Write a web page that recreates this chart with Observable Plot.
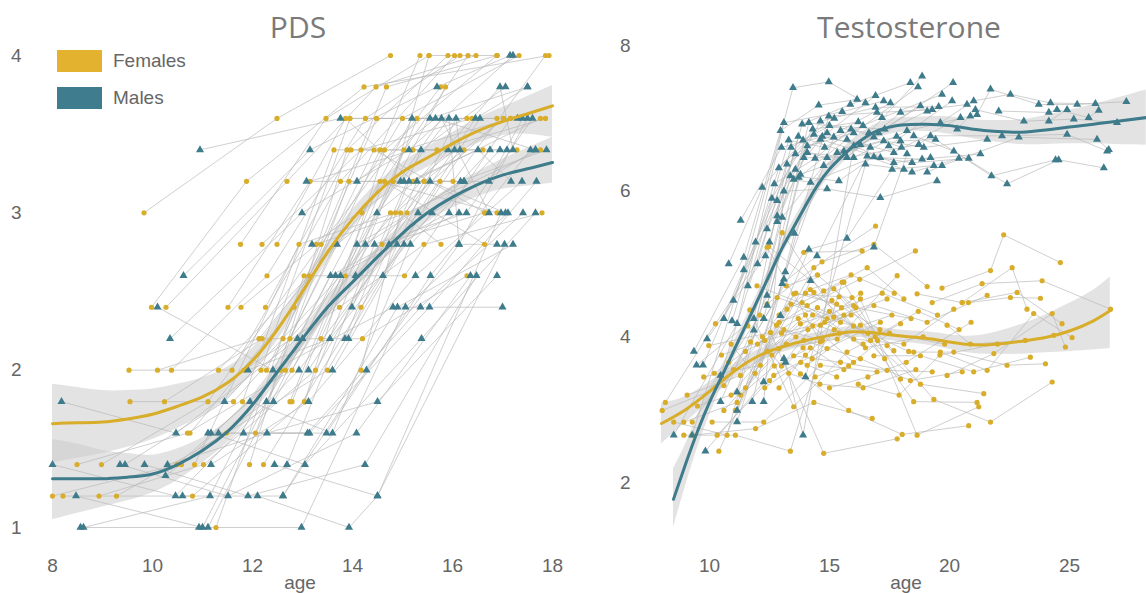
<!DOCTYPE html>
<html><head><meta charset="utf-8">
<script src="https://cdn.jsdelivr.net/npm/d3@7"></script>
<script src="https://cdn.jsdelivr.net/npm/@observablehq/plot@0.6"></script>
<style>
body{margin:0;background:#fff;}
#wrap{position:relative;width:1146px;height:593px;overflow:hidden;font-family:"Liberation Sans",Arial,sans-serif;}
#left,#right{position:absolute;top:0;}
#left{left:0px;} #right{left:573px;}
.title{position:absolute;top:7px;font-family:"Open Sans",sans-serif;font-size:30px;color:#7a7a7a;transform:translateX(-50%);white-space:nowrap;line-height:40px;}
.axlab{position:absolute;top:572px;font-size:19px;color:#666;transform:translateX(-50%);line-height:22px;}
.sw{position:absolute;left:57px;width:45px;height:22px;}
.lt{position:absolute;left:113px;font-size:19px;color:#666;line-height:22px;}
</style></head>
<body><div id="wrap">
<div id="left"></div><div id="right"></div>
<div class="title" style="left:298px">PDS</div>
<div class="title" style="left:909px">Testosterone</div>
<div class="sw" style="top:50px;background:#e3b22e"></div><div class="lt" style="top:50px">Females</div>
<div class="sw" style="top:87px;background:#3f7d8e"></div><div class="lt" style="top:87px">Males</div>
<div class="axlab" style="left:300px">age</div>
<div class="axlab" style="left:906px">age</div>
</div>
<script>
const GOLD = "#d8ad2a", TEAL = "#3e7b8b";

// PDS trajectories: [age, value] per visit
const pdsFemales = [
[[8.0,1.2],[10.49,1.4],[12.66,2.0],[14.76,3.0]],
[[8.21,1.2],[10.8,1.2],[13.04,1.8],[15.29,3.6]],
[[8.49,1.4],[10.7,1.6],[12.79,2.0],[14.81,3.2]],
[[8.93,1.2],[11.02,1.4],[13.26,2.0],[15.43,3.2]],
[[8.98,1.4],[11.11,1.8],[13.37,2.8],[15.76,3.8]],
[[9.28,1.2],[11.48,1.6],[13.5,2.0],[15.75,3.2]],
[[9.53,2.0],[11.59,2.0],[13.76,3.2],[16.04,4.0]],
[[9.55,1.8],[11.62,1.8],[13.86,2.6],[15.86,3.8]],
[[9.83,3.0],[12.49,3.6],[14.76,4.0]],
[[9.98,2.4],[11.88,3.2],[14.23,3.8],[17.93,4.0]],
[[10.1,2.0],[12.13,2.2],[14.19,3.0],[16.31,4.0]],
[[10.24,1.8],[12.19,2.2],[14.2,2.2],[16.29,2.6]],
[[10.27,2.4],[12.69,3.2],[14.47,3.8],[16.47,4.0]],
[[10.38,2.0],[12.29,2.6],[14.26,3.6],[16.15,4.0]],
[[10.58,1.4],[12.56,2.0],[14.59,2.8],[16.64,3.0]],
[[10.75,1.6],[12.83,2.4],[14.68,3.8],[16.89,4.0]],
[[10.84,1.4],[12.93,2.8],[14.86,3.0],[17.02,3.6]],
[[11.27,1.0],[13.03,2.6],[15.04,2.6],[17.16,3.6]],
[[11.32,2.0],[13.13,2.6],[15.0,3.6],[17.33,4.0]],
[[11.51,2.4],[13.15,3.2],[15.21,3.4],[17.29,3.4]],
[[11.76,2.8],[13.47,3.6],[15.53,4.0]],
[[11.77,2.4],[13.28,2.8],[15.09,3.0],[17.76,3.4]],
[[11.8,1.8],[13.63,3.4],[15.69,3.4],[17.86,3.6]],
[[11.83,2.0],[13.74,2.4],[15.43,2.8],[17.79,3.0]],
[[11.94,1.4],[13.89,3.4],[15.91,4.0]],
[[12.06,1.6],[13.93,3.2],[16.01,3.2],[17.86,4.0]],
[[12.17,2.0],[13.95,3.6],[16.29,3.6]],
[[12.19,2.8],[14.17,3.4],[16.39,3.6]],
[[12.22,1.4],[14.17,2.4],[16.23,3.4]],
[[12.26,2.4],[13.97,3.4],[16.61,3.4]],
[[12.28,2.0],[14.43,3.4],[16.66,3.0]],
[[12.61,2.2],[14.48,3.6],[16.89,3.6]],
[[12.75,1.8],[14.55,3.2],[16.89,3.0]],
[[12.75,2.2],[14.55,3.4],[15.35,4.0]],
[[12.79,1.8],[14.64,3.2],[16.64,2.8]],
[[13.04,1.8],[14.64,3.4],[16.89,4.0]],
[[13.37,2.2],[15.03,3.4],[17.16,3.6]],
[[12.49,2.8],[13.86,3.6],[15.21,3.2],[17.76,3.6]],
[[14.17,2.0],[14.96,3.0],[15.77,2.8]],
[[15.43,3.2],[17.02,3.6]],
[[14.81,3.2],[15.53,4.0],[16.89,4.0]]
];
const pdsMales = [
[[8.0,1.4],[10.46,1.2],[12.93,2.0],[15.31,3.0]],
[[8.18,1.8],[10.47,1.6],[12.9,2.2],[15.19,3.6]],
[[8.47,1.2],[11.0,1.0],[13.56,2.6],[15.93,3.0]],
[[8.56,1.0],[11.11,1.0],[13.66,2.6],[16.13,3.0]],
[[8.62,1.0],[11.15,1.2],[13.69,2.8],[16.04,3.4]],
[[9.35,1.4],[11.51,1.2],[14.08,1.6],[16.36,2.6]],
[[9.45,1.4],[11.44,1.8],[13.76,2.6],[15.91,3.4]],
[[9.84,1.4],[11.91,1.2],[14.25,1.4],[16.48,2.6]],
[[10.1,2.4],[12.41,2.0],[14.81,2.4],[17.0,2.4]],
[[10.26,1.33],[12.28,1.8],[14.09,2.8],[16.23,3.2]],
[[10.3,1.4],[12.29,1.6],[14.5,1.8],[16.89,2.6]],
[[10.35,2.2],[12.99,3.0],[15.13,3.4],[17.21,4.0]],
[[10.6,1.2],[12.61,1.2],[14.9,2.4],[17.21,2.8]],
[[10.62,2.6],[13.15,3.4],[15.69,3.8],[17.15,4.0]],
[[10.93,1.0],[12.98,1.0],[15.06,2.4],[17.11,3.0]],
[[10.95,3.4],[13.76,3.6],[15.55,3.6],[17.5,3.8]],
[[11.11,1.6],[13.1,1.6],[15.36,2.4],[17.41,3.0]],
[[11.17,1.6],[13.05,1.4],[15.38,2.2],[17.66,3.0]],
[[11.17,1.4],[13.12,1.8],[15.26,2.6],[17.39,3.2]],
[[11.32,1.6],[13.14,1.6],[15.54,2.4],[17.68,3.2]],
[[11.82,1.6],[13.48,1.6],[15.56,2.6],[17.56,3.4]],
[[11.91,2.0],[13.55,2.2],[15.59,3.0],[17.66,3.4]],
[[11.95,1.8],[13.6,1.6],[15.16,2.8],[16.95,3.4]],
[[12.1,1.2],[13.93,1.0],[14.5,1.2],[16.97,3.0]],
[[12.42,1.8],[14.26,2.8],[16.16,3.2],[17.88,3.4]],
[[12.69,1.4],[14.44,2.8],[16.28,3.0],[17.6,3.6]],
[[12.61,1.2],[14.28,2.0],[16.13,2.8],[17.5,3.6]],
[[13.12,2.0],[14.73,2.8],[16.46,3.6],[17.5,3.8]],
[[13.0,2.2],[14.89,2.8],[16.55,3.6],[17.3,3.6]],
[[13.19,2.8],[15.03,3.2],[16.73,3.2],[17.4,3.6]],
[[13.6,2.0],[15.03,2.8],[16.75,3.4],[17.09,3.4]],
[[13.85,2.2],[15.13,3.2],[16.51,3.4],[17.17,3.2]],
[[13.92,2.2],[15.29,3.2],[16.95,3.8],[17.21,3.4]],
[[13.99,2.4],[15.37,3.4],[17.06,3.8]],
[[14.06,2.6],[15.55,3.2],[17.06,3.0]],
[[14.09,3.2],[15.66,3.6],[17.66,3.4]],
[[14.49,3.0],[15.78,3.6],[16.73,3.0]],
[[14.61,2.6],[16.07,3.6],[16.15,3.4]],
[[14.96,3.2],[15.93,3.6],[16.13,2.8],[16.89,2.8]],
[[13.08,3.2],[16.23,3.2]],
[[12.44,1.4],[14.5,1.2],[17.04,2.8]]
];

// Testosterone trajectories
const testoFemales = [
[[8.03,2.99],[10.6,3.33],[12.82,4.54],[15.18,4.27],[17.4,4.52]],
[[8.16,3.1],[10.25,4.18],[12.4,5.23],[14.62,3.93]],
[[8.51,2.83],[10.73,2.65],[13.03,5.43],[15.46,4.2]],
[[8.93,2.83],[11.15,3.1],[13.51,4.59],[15.94,4.54]],
[[8.93,2.65],[11.08,2.65],[13.37,2.43],[15.53,4.75]],
[[9.07,3.2],[11.29,3.47],[13.79,4.18],[16.01,4.43]],
[[9.28,2.83],[11.71,3.93],[13.93,5.16],[16.36,5.18]],
[[9.28,2.65],[11.92,2.74],[14.35,3.1],[16.78,2.88]],
[[9.76,3.45],[12.12,3.61],[14.35,4.95],[16.92,5.52]],
[[9.97,3.88],[12.54,4.06],[14.76,2.4],[17.82,2.6]],
[[10.11,2.83],[12.26,2.83],[14.62,3.61],[16.98,3.52]],
[[10.32,2.65],[12.68,3.47],[14.9,3.84],[17.12,4.2]],
[[10.39,2.43],[12.79,4.16],[15.18,4.66],[17.68,3.81]],
[[10.6,2.99],[12.89,3.84],[15.32,3.97],[17.82,4.84]],
[[11.08,2.99],[13.23,4.38],[15.6,4.75],[17.96,3.42]],
[[11.68,4.37],[13.51,3.04],[15.73,3.79],[17.96,4.18]],
[[11.98,4.7],[14.07,4.43],[16.26,4.79],[18.58,5.18]],
[[12.4,4.45],[14.69,5.03],[16.85,5.27],[19.07,4.69]],
[[12.47,5.24],[14.76,4.63],[16.57,4.95],[18.1,4.52]],
[[13.51,3.74],[15.46,3.65],[17.4,3.54],[19.28,3.52]],
[[13.79,3.49],[15.8,2.99],[18.03,2.66],[20.8,2.78]],
[[13.86,4.47],[16.01,3.97],[18.1,3.9],[20.18,4.38]],
[[13.93,3.95],[16.29,3.7],[18.37,3.4],[20.53,3.52]],
[[14.07,3.61],[16.29,4.16],[18.51,3.11],[21.15,3.1]],
[[14.28,3.7],[16.29,4.52],[18.65,2.65],[21.22,3.04]],
[[14.35,4.61],[16.71,3.95],[18.79,3.35],[21.43,3.22]],
[[14.62,4.16],[16.85,4.43],[19.07,4.2],[21.57,4.57]],
[[16.85,3.74],[18.79,3.74],[21.01,3.52],[23.37,3.72]],
[[17.4,3.88],[19.35,3.14],[21.71,2.83],[24.28,3.38]],
[[18.51,3.79],[20.18,3.79],[22.4,3.61],[24.0,3.63]],
[[18.65,4.59],[20.53,4.47],[22.82,4.61],[24.69,4.18]],
[[19.28,4.47],[21.36,4.73],[23.86,4.77],[26.71,4.38]],
[[19.62,3.79],[21.57,3.54],[23.51,4.32],[25.11,3.99]],
[[19.69,4.67],[21.71,4.91],[22.26,5.4],[24.62,5.02]],
[[19.9,3.47],[21.85,3.77],[24.28,4.32],[24.83,3.86]],
[[19.9,4.16],[20.87,3.9],[23.16,3.95],[24.35,4.02]],
[[20.79,4.47],[22.54,4.54],[23.79,4.53]],
[[20.53,4.47],[22.61,4.95],[23.23,4.38]],
[[10.5,3.75],[12.3,3.95],[14.1,4.1],[15.9,4.3]],
[[11.0,3.55],[12.9,4.2],[14.5,4.4],[16.6,4.05]],
[[11.5,3.3],[13.2,3.9],[15.0,4.35],[17.0,3.95]],
[[12.0,3.9],[13.7,4.25],[15.4,4.05],[17.6,4.3]],
[[12.6,3.75],[14.3,4.3],[16.0,4.15],[18.3,3.8]],
[[13.0,4.05],[14.8,4.2],[16.5,3.85],[18.9,4.0]],
[[10.8,3.65],[12.1,4.3],[13.6,4.0],[15.1,4.5]],
[[11.3,3.2],[12.7,3.6],[14.2,3.85],[15.6,3.55]],
[[12.9,3.3],[14.0,3.75],[15.2,4.1],[16.4,3.9]],
[[11.9,3.5],[13.4,4.45],[14.9,4.25],[16.3,4.6]],
[[12.2,4.0],[13.6,4.6],[15.3,4.45],[17.1,4.1]],
[[12.5,3.4],[13.9,3.85],[15.6,4.3],[17.3,3.7]],
[[10.9,3.9],[12.3,3.3],[13.8,3.65],[15.3,3.45]],
[[13.2,4.7],[14.5,4.85],[16.1,4.4],[18.4,4.25]],
[[14.0,4.6],[15.5,4.4],[17.2,4.6],[19.5,4.3]],
[[14.4,3.45],[15.8,3.6],[17.5,4.05],[19.8,3.9]],
[[15.0,3.3],[16.6,3.45],[18.2,3.65],[20.9,4.2]],
[[15.4,4.55],[16.9,4.0],[18.7,4.35],[20.4,4.1]],
[[13.3,3.5],[14.6,3.35],[16.4,3.3],[18.6,3.55]],
[[11.6,4.15],[13.0,3.6],[14.3,4.15],[16.0,3.65]],
[[12.9,4.3],[14.2,4.65],[15.9,4.85],[17.7,4.6]],
[[9.5,3.05],[10.9,3.2],[12.4,3.8],[14.0,4.3]],
[[10.2,3.5],[11.5,3.8],[13.1,4.1],[14.7,3.95]],
[[16.2,3.35],[17.9,3.2],[19.6,3.75],[22.0,3.9]]
];
const testoMales = [
[[8.51,2.65],[11.15,4.18],[13.1,6.94],[15.53,7.09],[17.26,7.24]],
[[9.28,2.65],[11.43,4.92],[13.48,7.42],[14.97,7.5],[16.5,7.21]],
[[9.35,3.8],[11.43,5.09],[12.96,6.83],[14.55,7.18],[16.15,7.26]],
[[9.46,3.61],[11.85,4.25],[13.23,6.37],[14.9,6.8],[16.92,7.31]],
[[9.73,3.61],[11.92,5.3],[13.58,6.51],[15.46,6.83],[17.54,7.21]],
[[9.83,2.43],[12.26,3.38],[14.21,4.77],[16.85,5.23],[18.23,6.51]],
[[9.9,3.97],[12.33,5.11],[13.86,6.92],[15.87,7.19],[18.37,7.49]],
[[10.46,3.47],[12.4,5.48],[14.07,6.62],[16.01,6.8],[18.69,7.43]],
[[10.46,3.11],[12.4,4.57],[14.14,6.94],[16.64,6.8],[18.86,7.58]],
[[10.6,4.25],[12.82,5.87],[14.62,6.96],[16.92,7.15],[19.55,7.16]],
[[10.94,4.22],[12.89,6.32],[14.35,6.78],[16.29,6.64],[18.79,7.17]],
[[11.15,3.24],[13.03,5.64],[14.76,6.35],[16.85,6.74],[19.07,7.1]],
[[11.15,2.99],[13.1,4.79],[14.97,7.03],[16.98,7.08],[19.28,7.12]],
[[11.15,2.83],[13.16,4.89],[15.18,6.74],[17.19,7.01],[19.69,7.33]],
[[11.78,3.11],[13.54,5.42],[15.32,6.53],[17.05,6.8],[20.15,7.49]],
[[11.85,4.09],[13.37,6.21],[15.39,6.14],[17.47,6.62],[20.11,7.24]],
[[12.26,4.25],[13.72,6.19],[15.73,6.71],[17.68,6.53],[20.46,7.01]],
[[12.26,3.11],[13.1,6.0],[14.9,6.03],[17.12,5.91],[19.48,6.14]],
[[12.4,4.43],[13.79,6.23],[15.73,6.46],[17.96,7.08],[20.73,7.19]],
[[12.82,5.58],[13.93,6.46],[16.01,6.46],[18.23,6.83],[20.87,7.03]],
[[12.96,4.29],[14.14,5.2],[15.73,5.35],[17.61,6.3],[19.35,6.35]],
[[13.03,4.73],[14.48,5.11],[16.57,6.48],[18.44,6.26],[20.39,6.45]],
[[13.1,3.7],[14.0,3.45],[16.5,6.37],[18.1,6.3]],
[[13.17,3.65],[13.9,2.65],[16.01,6.62],[17.68,6.39],[19.21,6.46]],
[[13.51,6.16],[14.21,6.12],[16.85,6.47],[18.44,6.39],[20.8,6.45]],
[[13.58,6.3],[14.62,6.71],[17.12,6.46],[18.86,6.44],[21.29,6.51]],
[[14.07,6.53],[14.9,6.46],[17.26,6.69],[18.93,6.6],[21.57,6.71]],
[[17.96,6.69],[19.42,6.71],[21.75,6.21],[24.42,6.43]],
[[18.51,6.76],[20.18,6.55],[22.4,6.1],[24.55,6.43],[26.43,6.32]],
[[18.72,6.64],[19.21,6.76],[22.19,6.76],[24.9,6.78],[26.57,6.55]],
[[19.07,6.26],[19.69,6.35],[22.89,6.74],[26.15,6.71],[26.64,6.57]],
[[19.62,6.94],[21.01,7.24],[22.54,7.33],[24.21,7.21],[26.08,7.2]],
[[20.32,6.85],[21.08,7.12],[23.1,6.96],[25.18,6.99],[26.98,6.94]],
[[21.15,7.05],[21.71,7.4],[23.72,7.19],[25.32,7.19],[27.37,7.23]],
[[22.05,7.1],[24.14,7.08],[24.48,7.12],[25.8,7.01],[26.22,7.11]],
[[24.14,6.96],[24.9,7.12]],
[[11.0,4.5],[12.6,5.9],[14.3,6.85],[16.2,6.95]],
[[11.6,4.7],[13.3,6.7],[14.8,6.6],[16.4,6.9]],
[[12.0,5.0],[13.4,6.6],[15.0,6.9],[17.3,6.85]],
[[12.5,5.3],[13.7,6.75],[15.6,6.55],[17.8,6.75]],
[[12.7,6.1],[14.4,6.45],[15.9,6.85],[18.0,6.6]],
[[11.3,5.6],[13.0,6.6],[14.7,6.75],[16.7,6.6]],
[[10.8,5.0],[12.2,6.05],[13.9,6.7],[15.2,7.0]],
[[12.82,5.66],[14.07,6.53],[15.73,6.46],[18.72,6.64]]
];

// Smooth fits: [age, fit, lower, upper]
const pdsFemaleFit = [
[8,1.66,1.41,1.91],[8.5,1.665,1.44,1.89],[9,1.67,1.47,1.87],[9.5,1.69,1.51,1.87],[10,1.72,1.56,1.88],
[10.5,1.77,1.63,1.91],[11,1.83,1.71,1.95],[11.5,1.92,1.82,2.02],[12,2.06,1.98,2.14],[12.5,2.26,2.19,2.33],
[13,2.50,2.44,2.56],[13.5,2.75,2.69,2.81],[14,2.96,2.90,3.02],[14.5,3.13,3.07,3.19],[15,3.26,3.20,3.32],
[15.5,3.35,3.29,3.42],[16,3.44,3.37,3.51],[16.5,3.52,3.44,3.60],[17,3.58,3.49,3.67],[17.5,3.63,3.50,3.74],[18,3.68,3.48,3.81]
];
const pdsMaleFit = [
[8,1.31,1.05,1.56],[8.5,1.31,1.09,1.53],[9,1.31,1.13,1.49],[9.5,1.32,1.17,1.47],[10,1.34,1.22,1.46],
[10.5,1.40,1.30,1.50],[11,1.49,1.41,1.57],[11.5,1.61,1.54,1.68],[12,1.78,1.72,1.84],[12.5,1.99,1.93,2.05],
[13,2.20,2.14,2.26],[13.5,2.40,2.34,2.46],[14,2.56,2.50,2.62],[14.5,2.72,2.66,2.78],[15,2.87,2.81,2.93],
[15.5,3.00,2.94,3.06],[16,3.10,3.03,3.17],[16.5,3.18,3.10,3.26],[17,3.24,3.15,3.34],[17.5,3.28,3.17,3.41],[18,3.32,3.19,3.48]
];
const testoMaleFit = [
[8.5,1.77,1.38,2.19],[9,2.25,1.95,2.52],[9.5,2.70,2.47,2.92],[10,3.10,2.92,3.28],[10.5,3.45,3.31,3.59],
[11,3.80,3.68,3.92],[11.5,4.15,4.04,4.26],[12,4.50,4.40,4.60],[12.5,4.85,4.75,4.95],[13,5.20,5.10,5.30],
[13.5,5.50,5.40,5.60],[14,5.80,5.70,5.90],[14.5,6.08,5.98,6.18],[15,6.30,6.20,6.40],[15.5,6.47,6.37,6.57],
[16,6.62,6.52,6.72],[16.5,6.74,6.64,6.84],[17,6.83,6.73,6.93],[17.5,6.88,6.78,6.98],[18,6.91,6.81,7.01],
[19,6.92,6.82,7.02],[20,6.90,6.78,7.02],[21,6.85,6.72,6.98],[22,6.82,6.67,6.97],[23,6.81,6.64,6.98],
[24,6.84,6.64,7.04],[25,6.88,6.65,7.11],[26,6.92,6.65,7.19],[27,6.96,6.64,7.28],[28.2,7.01,6.63,7.39]
];
const testoFemaleFit = [
[8.0,2.81,2.53,3.08],[9,3.00,2.82,3.18],[10,3.25,3.12,3.38],[11,3.52,3.42,3.62],[12,3.73,3.64,3.82],
[13,3.86,3.78,3.94],[14,3.95,3.87,4.03],[15,4.02,3.95,4.09],[16,4.07,3.99,4.15],[17,4.05,3.97,4.13],
[18,4.01,3.93,4.09],[19,3.98,3.89,4.07],[20,3.93,3.83,4.03],[21,3.89,3.77,4.01],[22,3.90,3.76,4.07],
[23,3.94,3.76,4.17],[24,3.99,3.78,4.30],[25,4.08,3.80,4.46],[26,4.22,3.82,4.64],[26.7,4.36,3.84,4.82]
];

const pdsXTicks = [8,10,12,14,16,18], pdsYTicks = [1,2,3,4];
const testoXTicks = [10,15,20,25], testoYTicks = [2,4,6,8];

function rowsFrom(subjects, sex){const out=[];subjects.forEach((s,i)=>s.forEach(([a,v])=>out.push({id:sex+i,sex,age:a,val:v})));return out;}
function fitRows(t){return t.map(([a,f,l,h])=>({age:a,fit:f,lo:l,hi:h}));}

const style = {fontSize:"19px", fontFamily:"'Liberation Sans', Arial, sans-serif", color:"#666", background:"transparent", overflow:"visible"};
const fmt = d => String(d);

function panel(fem, mal, femFit, malFit, opts){
  const F = rowsFrom(fem,"F"), M = rowsFrom(mal,"M");
  const ff = fitRows(femFit), mf = fitRows(malFit);
  return Plot.plot({
    width:573, height:593, marginLeft:opts.ml, marginRight:opts.mr, marginTop:opts.mt, marginBottom:66,
    style,
    x:{domain:opts.xd, ticks:opts.xt, tickSize:0, tickPadding:31, tickFormat:fmt, label:null},
    y:{domain:opts.yd, ticks:opts.yt, tickSize:0, tickPadding:opts.yp, tickFormat:fmt, label:null},
    marks:[
      Plot.areaY(ff,{x:"age",y1:"lo",y2:"hi",fill:"#cccccc",fillOpacity:0.55,curve:"natural"}),
      Plot.areaY(mf,{x:"age",y1:"lo",y2:"hi",fill:"#cccccc",fillOpacity:0.55,curve:"natural"}),
      Plot.line(F,{x:"age",y:"val",z:"id",stroke:"#b8b8b8",strokeWidth:0.8,strokeOpacity:0.85}),
      Plot.line(M,{x:"age",y:"val",z:"id",stroke:"#b8b8b8",strokeWidth:0.8,strokeOpacity:0.85}),
      Plot.dot(F,{x:"age",y:"val",r:2.6,fill:GOLD,stroke:"none",symbol:"circle"}),
      Plot.dot(M,{x:"age",y:"val",r:3.0,fill:TEAL,stroke:"none",symbol:"triangle"}),
      Plot.line(ff,{x:"age",y:"fit",stroke:GOLD,strokeWidth:3,curve:"natural"}),
      Plot.line(mf,{x:"age",y:"fit",stroke:TEAL,strokeWidth:3,curve:"natural"})
    ]
  });
}

document.getElementById("left").append(panel(pdsFemales, pdsMales, pdsFemaleFit, pdsMaleFit,
  {ml:52, mr:21, mt:55, xd:[8,18], yd:[1,4], xt:pdsXTicks, yt:pdsYTicks, yp:31}));
document.getElementById("right").append(panel(testoFemales, testoMales, testoFemaleFit, testoMaleFit,
  {ml:80, mr:0, mt:45, xd:[7.667,28.21], yd:[1.382,8], xt:testoXTicks, yt:testoYTicks, yp:23}));
</script>
</body></html>
